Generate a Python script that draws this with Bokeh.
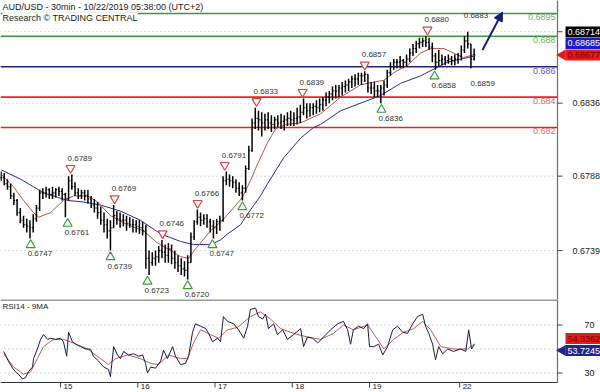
import math
from bokeh.plotting import figure
from bokeh.layouts import column
from bokeh.models import Range1d, Label, Arrow, NormalHead
from bokeh.embed import file_html
from bokeh.resources import INLINE
from bokeh.core.properties import value

FONT = "Liberation Sans"

# ---------------- data ----------------
title_text = "AUD/USD - 30min - 10/22/2019 05:38:00 (UTC+2)"
source_text = "Research \u00a9 TRADING CENTRAL"
rsi_title = "RSI14 - 9MA"

# hourly OHLC, time in hours since Oct 14 05:00 (bar k centred at k + 0.5)
bar_high = [
    0.6791, 0.6790, 0.6786, 0.6783, 0.6777, 0.6773, 0.6767, 0.6762, 0.6760, 0.6759,
    0.6763, 0.6769, 0.6779, 0.6780, 0.6781, 0.6780, 0.6781, 0.6780, 0.6781, 0.6780,
    0.6777, 0.6788, 0.6789, 0.6784, 0.6780, 0.6779, 0.6779, 0.6779, 0.6775, 0.6773,
    0.6771, 0.6768, 0.6764, 0.6760, 0.6759, 0.6769, 0.6765, 0.6764, 0.6763, 0.6762,
    0.6761, 0.6760, 0.6759, 0.6759, 0.6758, 0.6756, 0.6739, 0.6738, 0.6739, 0.6742,
    0.6746, 0.6743, 0.6744, 0.6743, 0.6739, 0.6736, 0.6734, 0.6732, 0.6736, 0.6751,
    0.6759, 0.6766, 0.6764, 0.6763, 0.6763, 0.6760, 0.6759, 0.6760, 0.6762, 0.6788,
    0.6791, 0.6789, 0.6788, 0.6786, 0.6784, 0.6782, 0.6795, 0.6808, 0.6826, 0.6833,
    0.6831, 0.6830, 0.6829, 0.6830, 0.6828, 0.6827, 0.6828, 0.6829, 0.6828, 0.6830,
    0.6831, 0.6830, 0.6833, 0.6835, 0.6839, 0.6836, 0.6836, 0.6836, 0.6838, 0.6839,
    0.6840, 0.6843, 0.6844, 0.6847, 0.6848, 0.6848, 0.6850, 0.6851, 0.6852, 0.6854,
    0.6855, 0.6856, 0.6856, 0.6857, 0.6855, 0.6850, 0.6850, 0.6848, 0.6848, 0.6851,
    0.6858, 0.6863, 0.6865, 0.6865, 0.6867, 0.6865, 0.6868, 0.6872, 0.6875, 0.6877,
    0.6879, 0.6879, 0.6880, 0.6879, 0.6876, 0.6869, 0.6871, 0.6868, 0.6867, 0.6868,
    0.6867, 0.6868, 0.6869, 0.6874, 0.6880, 0.6883, 0.6875, 0.6872]
bar_low = [
    0.6785, 0.6782, 0.6779, 0.6773, 0.6769, 0.6762, 0.6757, 0.6754, 0.6751, 0.6747,
    0.6751, 0.6758, 0.6765, 0.6773, 0.6774, 0.6773, 0.6773, 0.6774, 0.6775, 0.6772,
    0.6761, 0.6772, 0.6779, 0.6775, 0.6773, 0.6773, 0.6772, 0.6770, 0.6767, 0.6764,
    0.6760, 0.6756, 0.6751, 0.6747, 0.6739, 0.6754, 0.6756, 0.6754, 0.6755, 0.6752,
    0.6754, 0.6751, 0.6751, 0.6750, 0.6749, 0.6727, 0.6723, 0.6729, 0.6729, 0.6731,
    0.6734, 0.6731, 0.6731, 0.6730, 0.6727, 0.6725, 0.6723, 0.6722, 0.6720, 0.6731,
    0.6746, 0.6756, 0.6755, 0.6756, 0.6754, 0.6751, 0.6747, 0.6750, 0.6752, 0.6758,
    0.6782, 0.6781, 0.6780, 0.6777, 0.6775, 0.6772, 0.6777, 0.6792, 0.6804, 0.6819,
    0.6818, 0.6814, 0.6818, 0.6819, 0.6817, 0.6819, 0.6820, 0.6819, 0.6818, 0.6821,
    0.6821, 0.6821, 0.6822, 0.6823, 0.6828, 0.6826, 0.6827, 0.6828, 0.6829, 0.6830,
    0.6831, 0.6834, 0.6836, 0.6838, 0.6839, 0.6840, 0.6841, 0.6843, 0.6844, 0.6846,
    0.6847, 0.6848, 0.6848, 0.6850, 0.6843, 0.6842, 0.6840, 0.6840, 0.6836, 0.6841,
    0.6846, 0.6854, 0.6858, 0.6859, 0.6859, 0.6859, 0.6860, 0.6863, 0.6867, 0.6869,
    0.6872, 0.6873, 0.6873, 0.6871, 0.6863, 0.6858, 0.6860, 0.6861, 0.6861, 0.6862,
    0.6861, 0.6861, 0.6862, 0.6864, 0.6869, 0.6872, 0.6859, 0.6864]
bar_close = [
    0.6787, 0.6783, 0.6781, 0.6775, 0.6772, 0.6764, 0.6759, 0.6756, 0.6755, 0.6754,
    0.6760, 0.6767, 0.6777, 0.6777, 0.6779, 0.6776, 0.6777, 0.6779, 0.6778, 0.6776,
    0.6773, 0.6785, 0.6781, 0.6777, 0.6775, 0.6777, 0.6775, 0.6773, 0.6769, 0.6767,
    0.6764, 0.6759, 0.6756, 0.6752, 0.6754, 0.6762, 0.6760, 0.6759, 0.6759, 0.6757,
    0.6756, 0.6756, 0.6755, 0.6754, 0.6752, 0.6734, 0.6731, 0.6734, 0.6735, 0.6739,
    0.6738, 0.6736, 0.6740, 0.6734, 0.6731, 0.6729, 0.6727, 0.6726, 0.6731, 0.6748,
    0.6758, 0.6761, 0.6759, 0.6760, 0.6758, 0.6755, 0.6754, 0.6758, 0.6759, 0.6785,
    0.6786, 0.6785, 0.6784, 0.6780, 0.6777, 0.6780, 0.6793, 0.6805, 0.6823, 0.6826,
    0.6825, 0.6823, 0.6825, 0.6823, 0.6822, 0.6825, 0.6823, 0.6824, 0.6825, 0.6826,
    0.6825, 0.6826, 0.6827, 0.6830, 0.6833, 0.6831, 0.6833, 0.6834, 0.6833, 0.6835,
    0.6838, 0.6840, 0.6842, 0.6844, 0.6844, 0.6846, 0.6847, 0.6848, 0.6850, 0.6852,
    0.6852, 0.6854, 0.6854, 0.6855, 0.6846, 0.6846, 0.6844, 0.6844, 0.6846, 0.6848,
    0.6856, 0.6860, 0.6863, 0.6863, 0.6864, 0.6863, 0.6865, 0.6869, 0.6872, 0.6875,
    0.6876, 0.6877, 0.6876, 0.6873, 0.6867, 0.6863, 0.6864, 0.6865, 0.6864, 0.6865,
    0.6864, 0.6865, 0.6867, 0.6871, 0.6877, 0.6875, 0.6865, 0.68677]

# moving averages on price (hours, price)
ma_fast_t = [0.65, 4.4, 7.5, 10.6, 12.2, 15.9, 19.9, 23.0, 27.4, 30.5, 34.5, 39.8, 44.8, 49.1,
             53.2, 56.3, 58.8, 60.9, 65.6, 69.3, 72.7, 75.5, 78.0, 80.2, 83.3, 85.8, 88.9,
             93.6, 99.8, 106.0, 112.2, 116.3, 119.4, 122.5, 126.8, 130.9, 134.0, 138.0,
             141.1, 144.2, 147.6]
ma_fast_v = [0.6789, 0.6781, 0.6772, 0.6764, 0.6761, 0.6764, 0.6772, 0.6775, 0.6775, 0.6771,
             0.6762, 0.6756, 0.6752, 0.6744, 0.6739, 0.6735, 0.6734, 0.6740, 0.6752, 0.6759,
             0.6767, 0.6774, 0.6785, 0.6796, 0.6810, 0.6819, 0.6822, 0.6823, 0.6829, 0.6840,
             0.6848, 0.6850, 0.6851, 0.6856, 0.6861, 0.6869, 0.6872, 0.6872, 0.6869, 0.6866,
             0.6868]
ma_slow_t = [0.65, 6.56, 10.6, 13.7, 21.2, 26.1, 31.4, 37.6, 43.8, 50.1, 56.3, 60.3, 65.6,
             68.7, 70.9, 74.9, 77.1, 81.1, 83.3, 88.3, 93.6, 97.6, 99.8, 106.0, 112.2, 118.4,
             124.6, 130.9, 135.5, 139.2, 143.3, 147.6]
ma_slow_v = [0.6792, 0.6786, 0.6781, 0.6777, 0.6772, 0.6771, 0.6769, 0.6765, 0.6759, 0.6750,
             0.6745, 0.6743, 0.6743, 0.6746, 0.6750, 0.6756, 0.6763, 0.6775, 0.6783, 0.6800,
             0.6813, 0.6820, 0.6822, 0.6831, 0.6836, 0.6841, 0.6849, 0.6854, 0.6859, 0.6863,
             0.6865, 0.6867]

# horizontal key levels
level_values = [0.6895, 0.688, 0.686, 0.684, 0.682]
level_line_colors = ["#3a9a3a", "#3a9a3a", "#22227a", "#d92b2b", "#d92b2b"]
level_text_colors = ["#72ad72", "#72ad72", "#6060aa", "#e06a6a", "#e06a6a"]

# swing highs / lows
peak_t = [22.1, 35.8, 50.7, 61.6, 70.0, 79.9, 94.2, 113.5, 133.0]
peak_v = [0.6789, 0.6769, 0.6746, 0.6766, 0.6791, 0.6833, 0.6839, 0.6857, 0.6880]
trough_t = [9.7, 21.2, 34.5, 46.0, 58.5, 66.2, 75.5, 118.7, 135.2]
trough_v = [0.6747, 0.6761, 0.6739, 0.6723, 0.6720, 0.6747, 0.6772, 0.6836, 0.6858]
peak_note_t = [145.2]
peak_note_v = [0.6883]
trough_note_t = [147.3]
trough_note_v = [0.6859]

# projection arrow (hours, price)
arrow_t = [150.1, 156.3]
arrow_v = [0.6871, 0.6896]

price_ticks = [0.6739, 0.6788, 0.6836, 0.6883]
last_price = 0.68677
box_blue_value = 0.68685
box_black_value = 0.68714

day_ticks = [19, 43, 67, 91, 115, 143]
day_labels = ["15", "16", "17", "18", "19", "22"]

# RSI(14) and its 9-period MA
rsi_t = [1.3, 1.9, 2.8, 4.1, 5.0, 5.9, 7.2, 8.1, 9.0, 10.3, 10.6, 11.8, 12.8, 13.7, 15.0, 15.9,
         17.4, 19.0, 19.9, 20.9, 21.5, 22.7, 23.7, 25.2, 26.8, 28.3, 29.2, 30.8, 32.4, 33.9,
         34.5, 35.5, 36.7, 37.6, 38.6, 40.1, 41.7, 43.2, 44.5, 45.4, 46.0, 47.0, 48.5, 50.1,
         51.0, 52.2, 53.8, 54.7, 56.3, 57.8, 58.8, 60.0, 60.9, 62.5, 64.1, 65.0, 66.2, 67.8,
         68.7, 69.6, 70.9, 72.8, 74.3, 75.9, 77.1, 78.0, 79.6, 80.5, 81.8, 82.7, 83.6, 85.2,
         86.4, 88.0, 89.5, 91.4, 93.6, 94.5, 95.7, 97.3, 98.9, 100.7, 102.9, 105.1, 106.9,
         108.2, 109.1, 110.0, 111.6, 113.2, 114.4, 115.0, 116.3, 117.8, 119.1, 120.6, 122.2,
         123.7, 125.3, 126.8, 128.4, 129.9, 131.5, 132.4, 133.4, 134.6, 135.5, 136.5, 137.7,
         139.3, 141.1, 143.3, 144.9, 145.8, 146.7, 147.6]
rsi_v = [48, 45, 40, 34, 31, 29, 25, 26, 31, 35, 42, 50, 58, 62, 58, 59, 58, 59, 56, 44,
         64, 56, 54, 52, 50, 50, 44, 40, 35, 33, 27, 52, 45, 42, 48, 45, 46, 44, 45, 38,
         30, 35, 34, 40, 49, 42, 52, 44, 37, 38, 44, 64, 71, 69, 67, 63, 56, 59, 56, 77,
         73, 71, 66, 59, 69, 83, 84, 77, 75, 79, 67, 71, 62, 66, 58, 62, 67, 52, 60, 59,
         55, 60, 66, 71, 73, 66, 54, 66, 69, 67, 71, 52, 52, 54, 45, 52, 66, 69, 64, 63,
         71, 77, 79, 69, 63, 54, 41, 52, 46, 50, 48, 50, 48, 66, 50, 53.7245]
rsi_ma_t = [1.3, 4.4, 7.5, 9.7, 11.8, 13.7, 16.8, 19.9, 23.0, 27.4, 31.4, 33.9, 36.1, 39.8,
            43.8, 47.0, 49.4, 52.6, 56.3, 58.4, 60.3, 62.5, 65.6, 68.1, 70.9, 74.0, 78.0,
            81.1, 84.2, 87.4, 91.4, 95.7, 99.8, 103.8, 106.9, 110.0, 114.4, 117.5, 119.4,
            122.5, 125.6, 128.7, 131.5, 134.0, 137.1, 141.1, 145.5, 147.6]
rsi_ma_v = [46, 35, 29, 31, 42, 52, 58, 58, 55, 50, 42, 37, 42, 45, 42, 38, 37, 45, 42, 42,
            55, 66, 62, 59, 66, 68, 77, 81, 75, 67, 63, 60, 58, 63, 70, 66, 70, 58, 50, 58,
            64, 67, 73, 66, 52, 50, 50, 54.3362]
rsi_ticks = [30, 50, 70]
rsi_last = 53.7245
rsi_ma_last = 54.3362

# ---------------- layout constants ----------------
W = 600
MAIN_H = 299
RSI_H = 93
RSI_FRAME_H = 83          # RSI plotting area; the rest holds the day labels
AXIS_PX = 557             # x position of the right price axis
X0, X_AX = 0.34, 173.4    # hours at the left edge and at the price axis
hx = (X_AX - X0) / AXIS_PX            # hours per pixel
XF = X0 + W * hx                      # hours at the right edge of the canvas
Y0, Y1 = 0.670684, 0.690355
ppx = (Y1 - Y0) / MAIN_H              # price per pixel
upp = 1 / 1.2                         # rsi units per pixel
R1 = 91.25
R0 = R1 - RSI_H * upp
RB = R1 - RSI_FRAME_H * upp           # RSI panel bottom edge

AXIS_COL = "#6e6e6e"
TICK_COL = "#444444"
GRID_COL = "#b8b8b8"
TXT = "#222222"

bar_time = [i + 0.5 for i in range(len(bar_close))]
bar_open = [bar_close[0]] + bar_close[:-1]
TICK = 1.2 * hx

xr = Range1d(X0, XF)


def base_fig(h, y_range):
    f = figure(width=W, height=h, x_range=xr, y_range=y_range,
               output_backend="svg", toolbar_location=None,
               x_axis_location=None, y_axis_location=None, min_border=0,
               background_fill_color="white", border_fill_color="white")
    f.outline_line_color = None
    f.grid.visible = False
    return f


# ---------------- main price panel ----------------
p = base_fig(MAIN_H, Range1d(Y0, Y1))

# dotted price grid, axis line, ticks and tick labels
n = len(price_ticks)
p.segment(x0=[X0] * n, y0=price_ticks, x1=[X_AX] * n, y1=price_ticks,
          line_color=GRID_COL, line_dash="1 3", line_width=1)
p.segment(x0=[X_AX], y0=[Y0], x1=[X_AX], y1=[Y1], line_color=AXIS_COL, line_width=1.2)
p.segment(x0=[X_AX] * n, y0=price_ticks, x1=[X_AX + 5 * hx] * n, y1=price_ticks,
          line_color=TICK_COL, line_width=1)
p.text(x=[X_AX] * n, y=price_ticks, text=[f"{v:.4f}" for v in price_ticks], x_offset=15,
       text_align="left", text_baseline="middle", text_color=TXT,
       text_font=value(FONT), text_font_size="9px")

# key levels
m = len(level_values)
p.segment(x0=[X0] * m, y0=level_values, x1=[X_AX] * m, y1=level_values,
          line_color=level_line_colors, line_width=1.6)
p.text(x=[X_AX] * m, y=level_values, text=[f"{v:g}" for v in level_values],
       x_offset=-2, y_offset=1, text_align="right", text_baseline="top",
       text_color=level_text_colors, text_font=value(FONT), text_font_size="9px")

# moving averages
p.line(ma_slow_t, ma_slow_v, line_color="#2d2d8c", line_width=1)
p.line(ma_fast_t, ma_fast_v, line_color="#c0504d", line_width=1)

# OHLC bars
p.segment(x0=bar_time, y0=bar_low, x1=bar_time, y1=bar_high, line_color="black", line_width=1.5)
p.segment(x0=[t - TICK for t in bar_time], y0=bar_open, x1=bar_time, y1=bar_open,
          line_color="black", line_width=1.1)
p.segment(x0=bar_time, y0=bar_close, x1=[t + TICK for t in bar_time], y1=bar_close,
          line_color="black", line_width=1.1)

# swing markers
RED_M = "#d64545"
GREEN_M = "#3c9c3c"
p.scatter(peak_t, [v + 6.5 * ppx for v in peak_v], marker="inverted_triangle", size=9,
          line_color=RED_M, fill_color="white", line_width=1.2)
p.scatter(trough_t, [v - 6.5 * ppx for v in trough_v], marker="triangle", size=9,
          line_color=GREEN_M, fill_color="white", line_width=1.2)
pk_t = peak_t + peak_note_t
pk_v = peak_v + peak_note_v
tr_t = trough_t + trough_note_t
tr_v = trough_v + trough_note_v
p.text(x=pk_t, y=pk_v, text=[f"{v:.4f}" for v in pk_v], x_offset=-3, y_offset=-16.5,
       text_align="left", text_baseline="middle", text_color="#333333",
       text_font=value(FONT), text_font_size="8px")
p.text(x=tr_t, y=tr_v, text=[f"{v:.4f}" for v in tr_v], x_offset=-3, y_offset=15.5,
       text_align="left", text_baseline="middle", text_color="#333333",
       text_font=value(FONT), text_font_size="8px")

# projection arrow
NAVY = "#14206e"
p.add_layout(Arrow(end=NormalHead(size=9, fill_color=NAVY, line_color=NAVY),
                   x_start=arrow_t[0], y_start=arrow_v[0], x_end=arrow_t[1], y_end=arrow_v[1],
                   line_color=NAVY, line_width=2))

# header text
p.add_layout(Label(x=X0, y=Y1 - 6 * ppx, x_offset=2, text=title_text, text_font=FONT,
                   text_font_size="9px", text_color=TXT, text_baseline="middle",
                   background_fill_color="white"))
p.add_layout(Label(x=X0, y=Y1 - 17 * ppx, x_offset=2, text=source_text, text_font=FONT,
                   text_font_size="9px", text_color=TXT, text_baseline="middle",
                   background_fill_color="white"))

# price boxes on the axis (stacked above the last price)
box_vals = [last_price, box_blue_value, box_black_value]
box_pos = [last_price, last_price + 11.5 * ppx, last_price + 23 * ppx]
box_fill = ["#e31b1b", "#1a1ad0", "#000000"]
box_text = ["#7a0000", "white", "white"]
p.quad(left=[X_AX + 8 * hx] * 3, right=[XF] * 3,
       top=[y + 5.5 * ppx for y in box_pos], bottom=[y - 5.5 * ppx for y in box_pos],
       fill_color=box_fill, line_color=None)
p.scatter([X_AX + 5 * hx], [last_price], marker="triangle", angle=math.pi / 2, size=11,
          fill_color="#e31b1b", line_color=None)
p.text(x=[X_AX] * 3, y=box_pos, text=[f"{v:.5f}" for v in box_vals], x_offset=10,
       text_align="left", text_baseline="middle", text_color=box_text,
       text_font=value(FONT), text_font_size="9px")

# ---------------- RSI panel ----------------
r = base_fig(RSI_H, Range1d(R0, R1))

k = len(rsi_ticks)
r.segment(x0=[X0] * k, y0=rsi_ticks, x1=[X_AX] * k, y1=rsi_ticks,
          line_color=GRID_COL, line_dash="1 3", line_width=1)
# panel frame: top, bottom, right
r.segment(x0=[X0, X0], y0=[R1 - 0.5 * upp, RB], x1=[X_AX, X_AX], y1=[R1 - 0.5 * upp, RB],
          line_color="#333333", line_width=1)
r.segment(x0=[X_AX], y0=[RB], x1=[X_AX], y1=[R1], line_color=AXIS_COL, line_width=1.2)
r.segment(x0=[X_AX] * k, y0=rsi_ticks, x1=[X_AX + 5 * hx] * k, y1=rsi_ticks,
          line_color=TICK_COL, line_width=1)
r.text(x=[X_AX] * k, y=rsi_ticks, text=[str(v) for v in rsi_ticks], x_offset=27,
       text_align="left", text_baseline="middle", text_color=TXT,
       text_font=value(FONT), text_font_size="9px")

# day ticks and labels
d = len(day_ticks)
r.segment(x0=day_ticks, y0=[RB] * d, x1=day_ticks, y1=[RB - 5 * upp] * d,
          line_color=TICK_COL, line_width=1)
r.text(x=day_ticks, y=[RB] * d, text=day_labels, x_offset=3, y_offset=1,
       text_align="left", text_baseline="top", text_color=TXT,
       text_font=value(FONT), text_font_size="8px")

r.line(rsi_ma_t, rsi_ma_v, line_color="#c25a5a", line_width=1)
r.line(rsi_t, rsi_v, line_color="#1c1c44", line_width=1)

r.add_layout(Label(x=X0, y=R1 - 7 * upp, x_offset=2, text=rsi_title, text_font=FONT,
                   text_font_size="8px", text_color=TXT, text_baseline="middle"))

rbox_vals = [rsi_ma_last, rsi_last]
rbox_pos = [rsi_last + 6 * upp, rsi_last - 6 * upp]
rbox_fill = ["#e31b1b", "#24248a"]
rbox_text = ["#7a0000", "white"]
r.quad(left=[X_AX + 8 * hx] * 2, right=[XF] * 2,
       top=[y + 5.5 * upp for y in rbox_pos], bottom=[y - 5.5 * upp for y in rbox_pos],
       fill_color=rbox_fill, line_color=None)
r.scatter([X_AX + 5 * hx], [rbox_pos[1]], marker="triangle", angle=math.pi / 2, size=11,
          fill_color="#24248a", line_color=None)
r.text(x=[X_AX] * 2, y=rbox_pos, text=[f"{v:.4f}" for v in rbox_vals], x_offset=10,
       text_align="left", text_baseline="middle", text_color=rbox_text,
       text_font=value(FONT), text_font_size="9px")

layout = column(p, r, spacing=0)
open("out.html", "w").write(file_html(layout, INLINE, "AUD/USD"))
